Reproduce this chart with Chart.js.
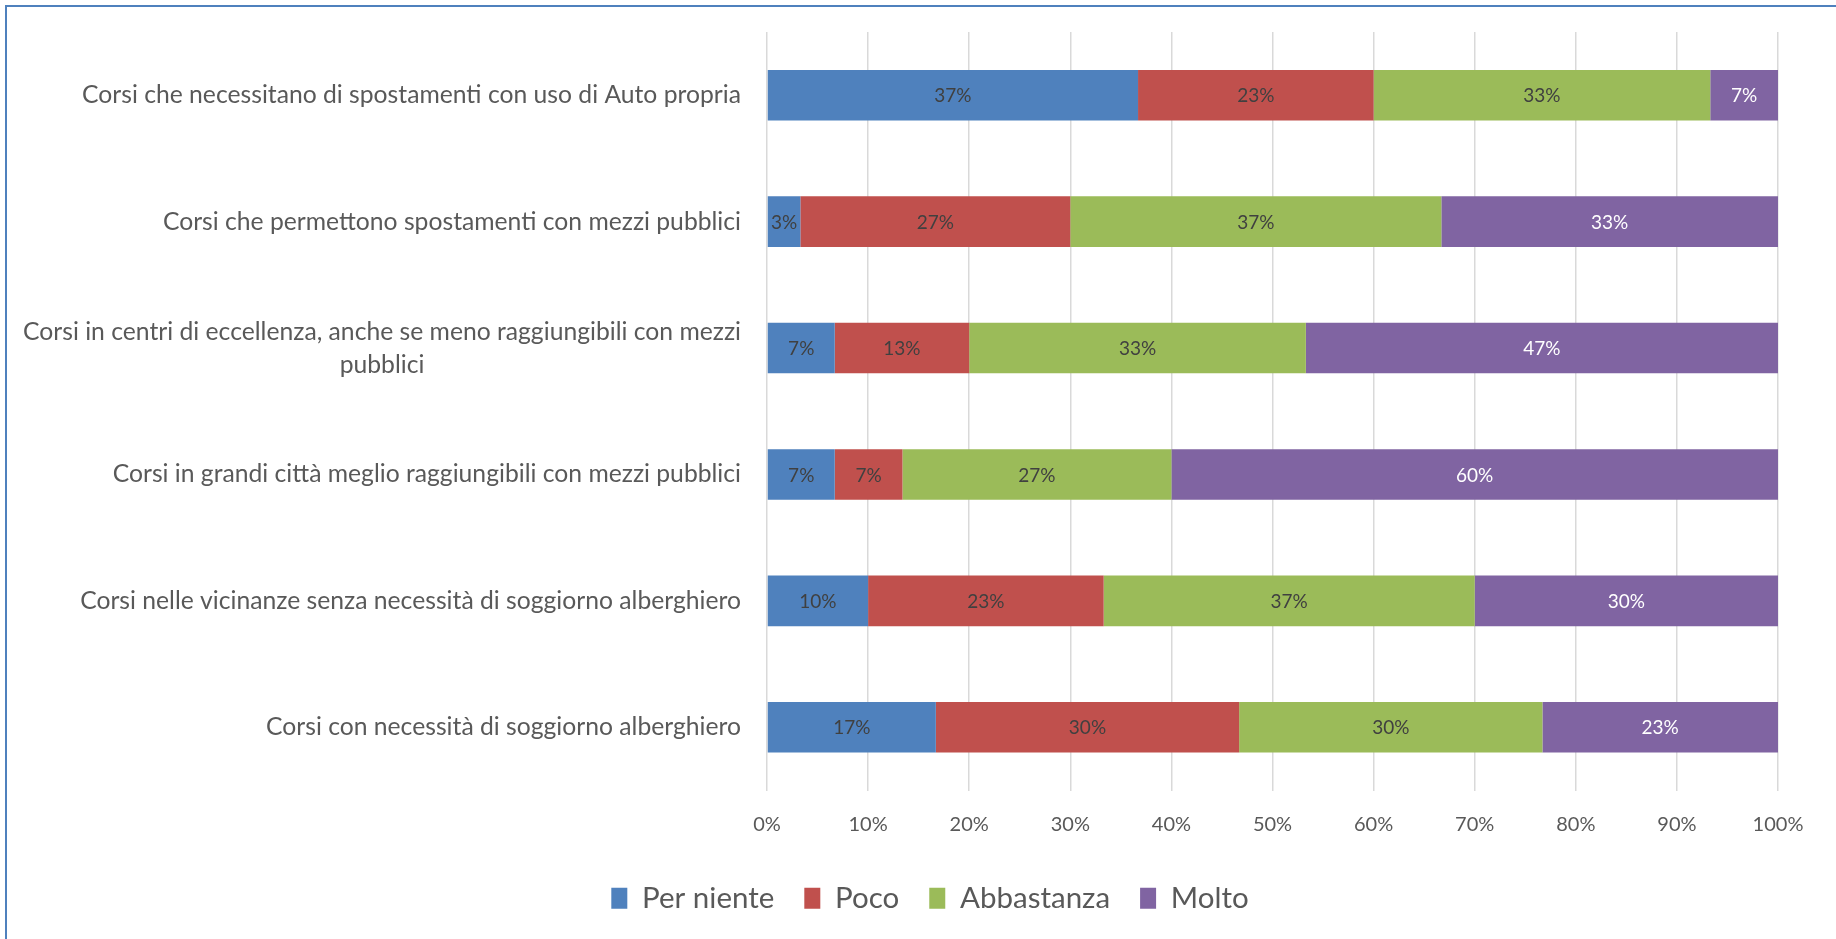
<!DOCTYPE html>
<html>
<head>
<meta charset="utf-8">
<script src="https://cdn.jsdelivr.net/npm/chart.js@4"></script>
<style>
body { margin: 0; background: #fff; }
canvas { display: block; }
</style>
</head>
<body>
<canvas id="myChart" width="1836" height="939"></canvas>
<script>
// Categories (top to bottom)
const categories = [
    'Corsi che necessitano di spostamenti con uso di Auto propria',
    'Corsi che permettono spostamenti con mezzi pubblici',
    ['Corsi in centri di eccellenza, anche se meno raggiungibili con mezzi', 'pubblici'],
    'Corsi in grandi città meglio raggiungibili con mezzi pubblici',
    'Corsi nelle vicinanze senza necessità di soggiorno alberghiero',
    'Corsi con necessità di soggiorno alberghiero'
];

// Series values (percent)
const perNiente = [36.7, 3.3, 6.7, 6.7, 10, 16.7];
const poco = [23.3, 26.7, 13.3, 6.7, 23.3, 30];
const abbastanza = [33.3, 36.7, 33.3, 26.6, 36.7, 30];
const molto = [6.7, 33.3, 46.7, 60, 30, 23.3];

const seriesNames = ['Per niente', 'Poco', 'Abbastanza', 'Molto'];
const seriesColors = ['#4f81bd', '#c0504d', '#9bbb59', '#8064a2'];
const valueLabelColors = ['#404040', '#404040', '#404040', '#ffffff'];

const xTicks = [0, 10, 20, 30, 40, 50, 60, 70, 80, 90, 100];

const fontFamily = 'Lato, "Open Sans", sans-serif';

// border of the frame + white background
const framePlugin = {
    id: 'frame',
    beforeDraw(chart) {
        const ctx = chart.ctx;
        ctx.save();
        ctx.fillStyle = '#ffffff';
        ctx.fillRect(0, 0, chart.width, chart.height);
        ctx.strokeStyle = '#4f81bd';
        ctx.lineWidth = 2;
        ctx.beginPath();
        ctx.moveTo(6, chart.height);
        ctx.lineTo(6, 6);
        ctx.lineTo(chart.width, 6);
        ctx.stroke();
        ctx.restore();
    }
};

// category labels, lines centered inside a right aligned block
const categoryLabelPlugin = {
    id: 'categoryLabels',
    afterDraw(chart) {
        const ctx = chart.ctx;
        const yScale = chart.scales.y;
        const lineH = 33;
        ctx.save();
        ctx.font = '24.7px ' + fontFamily;
        ctx.fillStyle = '#595959';
        ctx.textAlign = 'center';
        ctx.textBaseline = 'middle';
        categories.forEach(function(lab, i) {
            const lines = Array.isArray(lab) ? lab : [lab];
            const w = Math.max.apply(null, lines.map(l => ctx.measureText(l).width));
            const cx = chart.chartArea.left - 26 - w / 2;
            const cy = yScale.getPixelForValue(i);
            lines.forEach(function(l, j) {
                ctx.fillText(l, cx, cy + (j - (lines.length - 1) / 2) * lineH);
            });
        });
        ctx.restore();
    }
};

// percent labels in the middle of each segment
const valueLabelPlugin = {
    id: 'valueLabels',
    afterDatasetsDraw(chart) {
        const ctx = chart.ctx;
        ctx.save();
        ctx.font = '19px ' + fontFamily;
        ctx.textAlign = 'center';
        ctx.textBaseline = 'middle';
        chart.data.datasets.forEach(function(ds, di) {
            const meta = chart.getDatasetMeta(di);
            meta.data.forEach(function(bar, i) {
                const p = bar.getProps(['x', 'y', 'base'], true);
                ctx.fillStyle = valueLabelColors[di];
                ctx.fillText(Math.round(ds.data[i]) + '%', (p.x + p.base) / 2, p.y + 1);
            });
        });
        ctx.restore();
    }
};

const allSeries = [perNiente, poco, abbastanza, molto];

const ctx = document.getElementById('myChart').getContext('2d');
const myChart = new Chart(ctx, {
    type: 'bar',
    data: {
        labels: categories,
        datasets: allSeries.map(function(d, i) {
            return {
                label: seriesNames[i],
                data: d,
                backgroundColor: seriesColors[i],
                borderWidth: 0,
                barPercentage: 0.4,
                categoryPercentage: 1
            };
        })
    },
    options: {
        indexAxis: 'y',
        responsive: false,
        animation: false,
        layout: {
            padding: { top: 32, right: 58, left: 82, bottom: 16 }
        },
        scales: {
            x: {
                stacked: true,
                min: 0,
                max: 100,
                afterBuildTicks: function(scale) {
                    scale.ticks = xTicks.map(v => ({ value: v }));
                },
                afterFit: function(scale) {
                    scale.height = 63;
                },
                grid: { color: '#d9d9d9', lineWidth: 1.5, drawTicks: false },
                border: { display: false },
                ticks: {
                    padding: 22,
                    color: '#595959',
                    font: { family: fontFamily, size: 20 },
                    callback: function(v) { return v + '%'; }
                }
            },
            y: {
                stacked: true,
                grid: { display: false },
                border: { display: false },
                ticks: { display: false },
                afterFit: function(scale) {
                    scale.width = 767 - 82;
                }
            }
        },
        plugins: {
            tooltip: { enabled: false },
            legend: {
                position: 'bottom',
                labels: {
                    boxWidth: 16,
                    boxHeight: 21,
                    padding: 30,
                    color: '#595959',
                    font: { family: fontFamily, size: 29.5 }
                }
            }
        }
    },
    plugins: [framePlugin, categoryLabelPlugin, valueLabelPlugin]
});
</script>
</body>
</html>
